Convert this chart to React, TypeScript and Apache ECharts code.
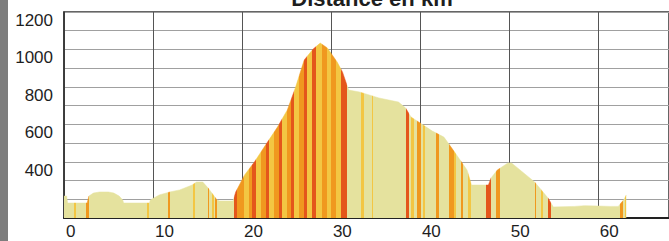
import React, { useEffect, useRef } from "react";
import * as echarts from "echarts";

// Elevation profile: [distance km, altitude m]
const profile: [number, number][] = [
  [0.0, 317], [0.3, 317], [0.4, 280], [2.6, 280], [2.8, 317], [3.3, 333],
  [4.0, 339], [5.0, 339], [5.6, 333], [6.2, 317], [6.6, 296], [6.7, 280],
  [9.6, 280], [9.7, 296], [10.7, 323], [11.9, 339], [13.0, 350], [14.4, 376],
  [14.9, 392], [15.6, 392], [16.2, 360], [17.2, 296], [17.5, 291], [19.0, 291],
  [19.3, 339], [20.3, 430], [21.4, 499], [22.8, 600], [24.0, 686], [25.1, 777],
  [26.0, 894], [27.0, 1044], [28.0, 1102], [28.8, 1134], [29.6, 1108],
  [30.7, 1033], [31.3, 980], [31.8, 910], [32.0, 883], [33.2, 873],
  [35.4, 841], [37.6, 819], [38.4, 787], [39.0, 739], [40.2, 702],
  [41.4, 664], [42.7, 632], [43.9, 552], [45.3, 456], [45.8, 376],
  [47.7, 376], [48.0, 414], [48.7, 456], [49.9, 494], [50.3, 494],
  [52.9, 392], [54.4, 307], [55.0, 259], [57.4, 262], [58.5, 266],
  [60.0, 264], [61.4, 262], [62.3, 262], [62.6, 280], [62.9, 296], [63.2, 323],
];

// Gradient stripes: [from km, to km, level]
const stripes: [number, number, number][] = [
  [1.12, 1.34, 1], [2.46, 2.8, 2], [9.29, 9.52, 1], [11.65, 11.87, 2],
  [14.45, 14.78, 1], [16.13, 16.35, 2], [16.69, 16.9, 1], [17.0, 17.25, 2],
  [19.15, 19.49, 3], [19.49, 20.27, 2], [20.27, 20.83, 1], [20.83, 21.16, 2],
  [21.16, 21.61, 3], [21.61, 22.17, 1], [22.17, 22.73, 2], [22.73, 23.07, 3],
  [23.07, 23.63, 1], [23.63, 24.19, 2], [24.19, 24.52, 3], [24.52, 25.08, 1],
  [25.08, 25.53, 2], [25.53, 25.87, 3], [25.87, 26.43, 1], [26.43, 26.99, 2],
  [26.99, 27.32, 3], [27.32, 27.88, 1], [27.88, 28.33, 3], [28.33, 29.0, 1],
  [29.0, 29.56, 2], [29.56, 30.01, 1], [30.01, 30.57, 2], [30.57, 31.13, 1],
  [31.13, 31.8, 3], [33.37, 33.71, 1], [34.6, 34.71, 1], [38.41, 38.75, 3],
  [38.97, 39.31, 1], [39.64, 40.09, 2], [40.31, 40.54, 1], [41.77, 42.11, 2],
  [43.23, 43.79, 2], [43.79, 44.01, 1], [44.57, 44.9, 2], [45.46, 45.8, 1],
  [47.48, 48.04, 3], [48.6, 49.05, 2], [52.97, 53.08, 2], [53.64, 53.86, 1],
  [54.42, 54.76, 3], [62.49, 62.82, 2], [63.02, 63.2, 1],
];

const xTicks = [0, 10, 20, 30, 40, 50, 60];
const yLabels = [400, 600, 800, 1000, 1200];
const title = "Distance en km";

const levelColors = ["#e5e29e", "#f3c643", "#f0981f", "#e4561b"];

export default function App() {
  const ref = useRef<HTMLDivElement>(null);
  useEffect(() => {
    if (!ref.current) return;
    const chart = echarts.init(ref.current, null, { renderer: "svg" });
    const pieces = stripes.map(([a, b, l]) => ({ gte: a, lt: b, color: levelColors[l] }));
    chart.setOption({
      animation: false,
      backgroundColor: "#ffffff",
      textStyle: { fontFamily: "Liberation Sans, Arial, sans-serif" },
      grid: {
        left: 64,
        top: 12,
        width: 607,
        bottom: 23,
        show: true,
        borderColor: "#333",
        borderWidth: 1.5,
        backgroundColor: "transparent",
      },
      visualMap: {
        type: "piecewise",
        show: false,
        dimension: 0,
        seriesIndex: 0,
        pieces,
        outOfRange: { color: levelColors[0] },
      },
      xAxis: {
        type: "value",
        min: 0,
        max: 68,
        interval: 10,
        axisLine: { show: true, lineStyle: { color: "#222", width: 2 } },
        axisTick: { show: false },
        splitLine: { show: true, lineStyle: { color: "#555", width: 1 } },
        axisLabel: {
          showMaxLabel: false,
          align: "left",
          margin: 5,
          fontSize: 17,
          color: "#1e1e1e",
          padding: [0, 0, 0, 2],
          formatter: (v: number) => (xTicks.includes(v) ? String(v) : ""),
        },
      },
      yAxis: {
        type: "value",
        min: 200,
        max: 1300,
        interval: 100,
        axisLine: { show: true, lineStyle: { color: "#333", width: 1.5 } },
        axisTick: { show: false },
        splitLine: { show: true, lineStyle: { color: "#a0a0a0", width: 1 } },
        axisLabel: {
          margin: 11,
          fontSize: 17,
          color: "#1e1e1e",
          verticalAlign: "bottom",
          padding: [0, 0, 2, 0],
          formatter: (v: number) => (yLabels.includes(v) ? String(v) : ""),
        },
      },
      series: [
        {
          type: "line",
          data: profile,
          showSymbol: false,
          lineStyle: { width: 0.5 },
          areaStyle: { opacity: 1, origin: "start" },
          z: 3,
        },
      ],
      graphic: [
        {
          type: "rect",
          shape: { x: 0, y: 0, width: 8, height: 241 },
          style: { fill: "#7d7d7d" },
        },
        {
          type: "text",
          x: 372,
          y: 9,
          style: {
            text: title,
            font: "bold 22px Liberation Sans, Arial, sans-serif",
            fill: "#1e1e1e",
            align: "center",
            verticalAlign: "bottom",
          },
        },
      ],
    });
    return () => chart.dispose();
  }, []);
  return (
    <div
      ref={ref}
      style={{ position: "absolute", left: 0, top: 0, width: 669, height: 241 }}
    />
  );
}
